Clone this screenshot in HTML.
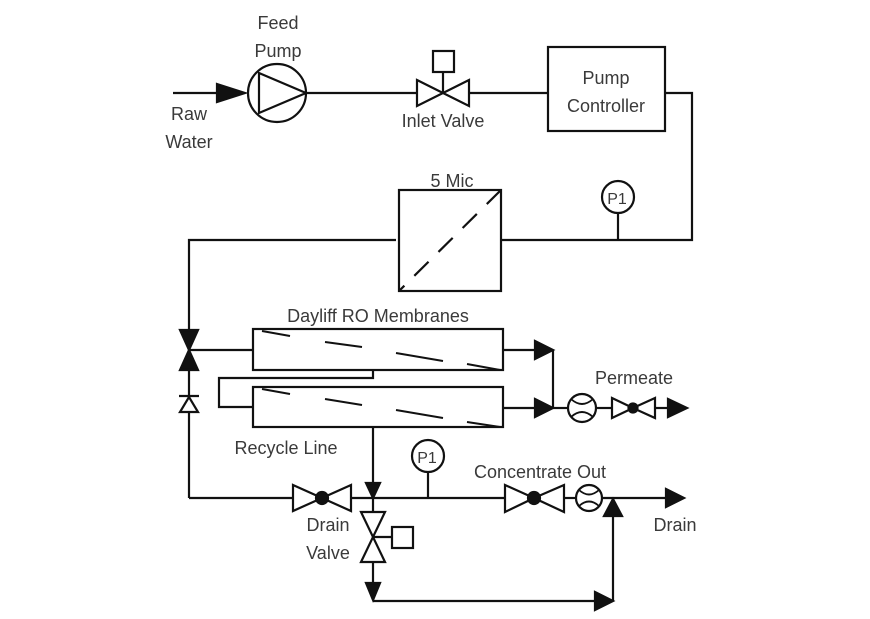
<!DOCTYPE html>
<html><head><meta charset="utf-8"><style>
html,body{margin:0;padding:0;background:#fff;}
svg{display:block;}
text{font-family:"Liberation Sans",sans-serif;font-size:18px;fill:#3a3a3a;}
</style></head><body>
<svg width="870" height="619" viewBox="0 0 870 619" xmlns="http://www.w3.org/2000/svg">
<g stroke="#111" stroke-width="2.2" fill="none">
<line x1="173" y1="93" x2="222" y2="93"/>
<polygon points="217,84 245,93 217,102" fill="#111"/>
<circle cx="277" cy="93" r="29"/>
<polygon points="259,73 306,93 259,113"/>
<line x1="306" y1="93" x2="417" y2="93"/>
<polygon points="417,80 443,93 417,106"/>
<polygon points="469,80 443,93 469,106"/>
<line x1="443" y1="93" x2="443" y2="72"/>
<rect x="433" y="51" width="21" height="21"/>
<line x1="469" y1="93" x2="548" y2="93"/>
<rect x="548" y="47" width="117" height="84"/>
<polyline points="665,93 692,93 692,240 501,240"/>
<circle cx="618" cy="197" r="16"/>
<line x1="618" y1="213" x2="618" y2="240"/>
<rect x="399" y="190" width="102" height="101"/>
<line x1="501" y1="190" x2="399" y2="291" stroke-dasharray="20,14"/>
<polyline points="396,240 189,240 189,340"/>
<polygon points="180,330 198,330 189,350" fill="#111"/>
<polygon points="180,370 198,370 189,350" fill="#111"/>
<line x1="189" y1="350" x2="253" y2="350"/>
<line x1="189" y1="370" x2="189" y2="498"/>
<polygon points="180,412 198,412 189,397" fill="#fff"/>
<line x1="179" y1="396" x2="199" y2="396"/>
<rect x="253" y="329" width="250" height="41"/>
<rect x="253" y="387" width="250" height="40"/>
<g stroke-width="2">
<line x1="262" y1="331" x2="290" y2="336"/><line x1="325" y1="342" x2="362" y2="347"/><line x1="396" y1="353" x2="443" y2="361"/><line x1="467" y1="364" x2="500" y2="370"/>
<line x1="262" y1="389" x2="290" y2="394"/><line x1="325" y1="399" x2="362" y2="405"/><line x1="396" y1="410" x2="443" y2="418"/><line x1="467" y1="422" x2="500" y2="427"/>
</g>
<polyline points="373,370 373,378 219,378 219,407 253,407"/>
<line x1="503" y1="350" x2="535" y2="350"/>
<polygon points="535,341 553,350 535,359" fill="#111"/>
<line x1="503" y1="408" x2="535" y2="408"/>
<polygon points="535,399 553,408 535,417" fill="#111"/>
<line x1="553" y1="350" x2="553" y2="408"/>
<line x1="553" y1="408" x2="568" y2="408"/>
<circle cx="582" cy="408" r="14"/>
<path d="M571,399 Q582,409 593,399 M571,417 Q582,407 593,417" stroke-width="1.8"/>
<line x1="596" y1="408" x2="612" y2="408"/>
<polygon points="612,398 633,408 612,418"/>
<polygon points="655,398 633,408 655,418"/>
<circle cx="633" cy="408" r="4.5" fill="#111"/>
<line x1="655" y1="408" x2="670" y2="408"/>
<polygon points="668,399 687,408 668,417" fill="#111"/>
<line x1="189" y1="498" x2="293" y2="498"/>
<polygon points="293,485 322,498 293,511"/>
<polygon points="351,485 322,498 351,511"/>
<circle cx="322" cy="498" r="6" fill="#111"/>
<line x1="351" y1="498" x2="505" y2="498"/>
<line x1="373" y1="427" x2="373" y2="485"/>
<polygon points="366,483 380,483 373,498" fill="#111"/>
<circle cx="428" cy="456" r="16"/>
<line x1="428" y1="472" x2="428" y2="498"/>
<polygon points="505,485 534,498 505,512"/>
<polygon points="564,485 534,498 564,512"/>
<circle cx="534" cy="498" r="6" fill="#111"/>
<line x1="564" y1="498" x2="576" y2="498"/>
<circle cx="589" cy="498" r="13"/>
<path d="M579,490 Q589,499 599,490 M579,506 Q589,497 599,506" stroke-width="1.8"/>
<line x1="602" y1="498" x2="666" y2="498"/>
<polygon points="666,489 684,498 666,507" fill="#111"/>
<line x1="373" y1="498" x2="373" y2="512"/>
<polygon points="361,512 385,512 373,537"/>
<polygon points="361,562 385,562 373,537"/>
<line x1="373" y1="537" x2="392" y2="537"/>
<rect x="392" y="527" width="21" height="21"/>
<line x1="373" y1="562" x2="373" y2="585"/>
<polygon points="366,583 380,583 373,600" fill="#111"/>
<line x1="373" y1="601" x2="597" y2="601"/>
<polygon points="595,592 613,601 595,610" fill="#111"/>
<line x1="613" y1="601" x2="613" y2="515"/>
<polygon points="604,516 622,516 613,499" fill="#111"/>
</g>
<text x="278" y="29" text-anchor="middle">Feed</text>
<text x="278" y="57" text-anchor="middle">Pump</text>
<text x="189" y="120" text-anchor="middle">Raw</text>
<text x="189" y="148" text-anchor="middle">Water</text>
<text x="443" y="127" text-anchor="middle">Inlet Valve</text>
<text x="606" y="84" text-anchor="middle">Pump</text>
<text x="606" y="112" text-anchor="middle">Controller</text>
<text x="452" y="187" text-anchor="middle">5 Mic</text>
<text x="617" y="204" text-anchor="middle" style="font-size:16px">P1</text>
<text x="378" y="322" text-anchor="middle">Dayliff RO Membranes</text>
<text x="634" y="384" text-anchor="middle">Permeate</text>
<text x="286" y="454" text-anchor="middle">Recycle Line</text>
<text x="427" y="463" text-anchor="middle" style="font-size:16px">P1</text>
<text x="540" y="478" text-anchor="middle">Concentrate Out</text>
<text x="675" y="531" text-anchor="middle">Drain</text>
<text x="328" y="531" text-anchor="middle">Drain</text>
<text x="328" y="559" text-anchor="middle">Valve</text>
</svg>
</body></html>
